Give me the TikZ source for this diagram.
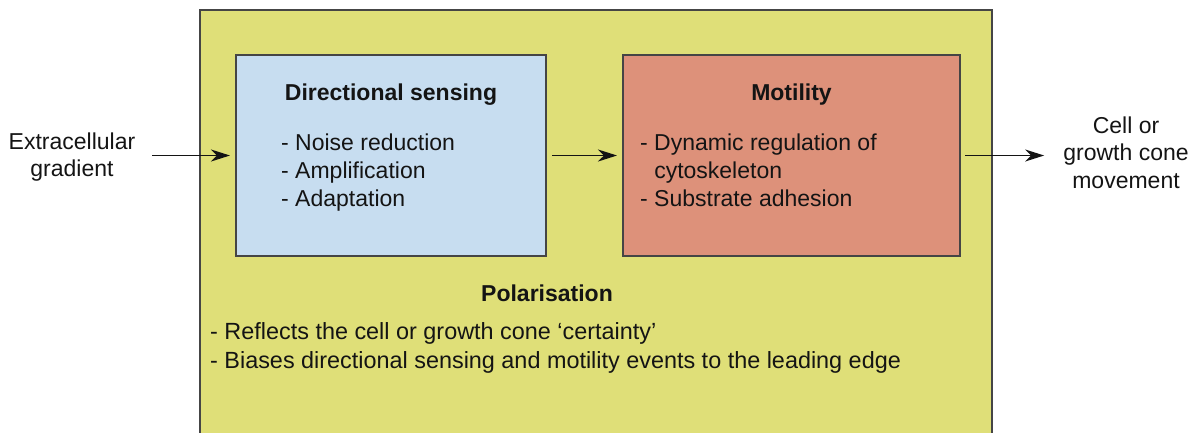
\documentclass[tikz,border=0pt]{standalone}
\usepackage{fontspec}
\setmainfont{Liberation Sans}
\usetikzlibrary{positioning, arrows.meta}
\definecolor{PolarFill}{HTML}{DFDF78}
\definecolor{SenseFill}{HTML}{C7DDF0}
\definecolor{MotilFill}{HTML}{DD917A}
\definecolor{Edge}     {HTML}{454545}
\definecolor{Ink}      {HTML}{141414}

\tikzset{
  stagebox/.style={draw=Edge, line width=2pt, outer sep=0pt, inner sep=0pt,
                   minimum width=310pt, minimum height=201pt},
  heading/.style={font=\fontsize{23}{28}\selectfont\bfseries, text=Ink, inner sep=0pt, anchor=base},
  items/.style={font=\fontsize{23}{28}\selectfont, text=Ink, align=left, inner sep=0pt, anchor=north west},
  label/.style={font=\fontsize{23}{27.5}\selectfont, text=Ink, align=center, inner sep=0pt},
  flow/.style={draw=Ink, line width=1.5pt, -{Stealth[length=19pt, width=12pt, inset=6pt]}},
}

\begin{document}
\begin{tikzpicture}[x=1pt, y=-1pt]
  \useasboundingbox (0,0) rectangle (1198,432);
  \clip (0,0) rectangle (1198,432);

  % -- outer frame: polarisation (runs off the bottom edge)
  \node[draw=Edge, fill=PolarFill, line width=2pt, outer sep=0pt, anchor=north west,
        minimum width=792pt, minimum height=440pt] (polar) at (200,10) {};

  % -- stage 1: directional sensing
  \node[stagebox, fill=SenseFill] (sense) at (391,155.5) {};
  \node[heading] (senseT) at ([yshift=-45pt]sense.north) {Directional sensing};
  \node[items] (senseI) at ([xshift=45pt, yshift=-78.5pt]sense.north west)
    {- Noise reduction\\- Amplification\\- Adaptation};

  % -- stage 2: motility
  \node[stagebox, fill=MotilFill, minimum width=337pt, right=77pt of sense] (motil) {};
  \node[heading] (motilT) at ([yshift=-45pt]motil.north) {Motility};
  \node[items] (motilI) at ([xshift=17pt, yshift=-78.5pt]motil.north west)
    {- Dynamic regulation of\\\phantom{- }cytoskeleton\\- Substrate adhesion};

  % -- polarisation text
  \node[heading] (polarT) at (547,301) {Polarisation};
  \node[items, font=\fontsize{23.4}{28.5}\selectfont] (polarI) at (210,322.5)
    {- Reflects the cell or growth cone `certainty'\\
     - Biases directional sensing and motility events to the leading edge};

  % -- input / output
  \node[label] (ext)  at (72,157)     {Extracellular\\gradient};
  \node[label] (move) at (1126,152.5) {Cell or\\growth cone\\movement};

  \draw[flow, shorten <=17pt, shorten >=6pt] (ext.east |- sense.west) -- (sense.west);
  \draw[flow, shorten <=6pt, shorten >=6pt] (sense.east) -- (motil.west);
  \draw[flow, shorten <=5pt, shorten >=19pt] (motil.east) -- (move.west |- motil.east);
\end{tikzpicture}
\end{document}
